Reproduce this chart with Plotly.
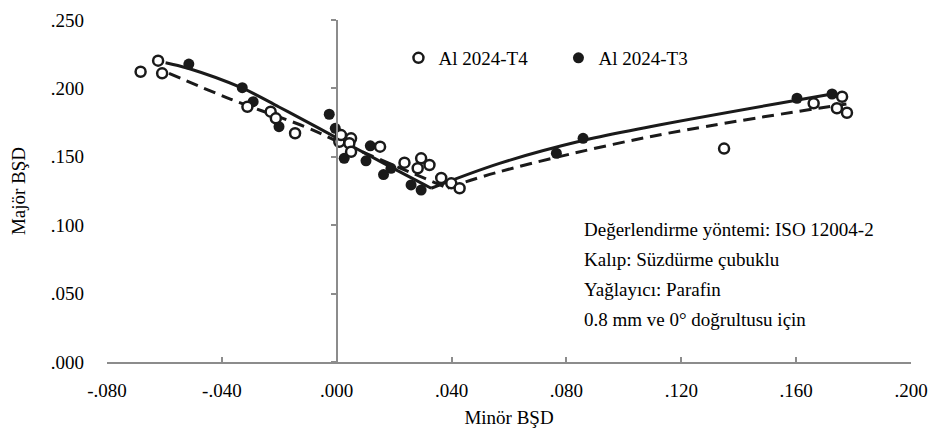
import plotly.graph_objects as go

# Al 2024-T4 (open circles)
t4_x = [-0.0683, -0.0622, -0.0608, -0.0311, -0.0230, -0.0212, -0.0145,
        0.0009, 0.0015, 0.0050, 0.0044, 0.0050, 0.0151, 0.0236, 0.0294,
        0.0282, 0.0323, 0.0364, 0.0399, 0.0428, 0.1349, 0.1661, 0.1760,
        0.1742, 0.1777]
t4_y = [0.2122, 0.2203, 0.2110, 0.1866, 0.1830, 0.1781, 0.1672,
        0.1610, 0.1659, 0.1635, 0.1599, 0.1537, 0.1574, 0.1457, 0.1489,
        0.1416, 0.1440, 0.1345, 0.1306, 0.1270, 0.1560, 0.1891, 0.1939,
        0.1855, 0.1822]

# Al 2024-T3 (filled dots)
t3_x = [-0.0515, -0.0329, -0.0291, -0.0201, -0.0026, -0.0005, 0.0026,
        0.0102, 0.0117, 0.0163, 0.0189, 0.0259, 0.0294, 0.0765, 0.0858,
        0.1603, 0.1725]
t3_y = [0.2178, 0.2005, 0.1903, 0.1720, 0.1811, 0.1708, 0.1489,
        0.1471, 0.1580, 0.1370, 0.1416, 0.1294, 0.1257, 0.1526, 0.1635,
        0.1928, 0.1959]

# trend curves
t3_fit_left_x = [-0.0596, -0.0518, -0.0330, -0.0201, -0.0061, 0.0148, 0.0329]
t3_fit_left_y = [0.2188, 0.2147, 0.2003, 0.1864, 0.1708, 0.1470, 0.1270]
t3_fit_right_x = [0.0329, 0.0567, 0.0857, 0.1091, 0.1725]
t3_fit_right_y = [0.1270, 0.1452, 0.1619, 0.1720, 0.1959]

t4_fit_left_x = [-0.0584, -0.0368, -0.0106, 0.0009, 0.0386]
t4_fit_left_y = [0.2110, 0.1920, 0.1716, 0.1608, 0.1272]
t4_fit_right_x = [0.0386, 0.0567, 0.1091, 0.1775]
t4_fit_right_y = [0.1272, 0.1391, 0.1647, 0.1886]

x_ticks = [-0.08, -0.04, 0.0, 0.04, 0.08, 0.12, 0.16, 0.2]
x_ticktext = ["-.080", "-.040", ".000", ".040", ".080", ".120", ".160", ".200"]
y_ticks = [0.0, 0.05, 0.1, 0.15, 0.2, 0.25]
y_ticktext = [".000", ".050", ".100", ".150", ".200", ".250"]

note_lines = ["Değerlendirme yöntemi: ISO 12004-2", "Kalıp: Süzdürme çubuklu",
              "Yağlayıcı: Parafin", "0.8 mm ve 0° doğrultusu için"]

FONT = "Liberation Serif"
AXIS_GREY = "#8c8c8c"

fig = go.Figure()
for xs, ys in [(t3_fit_left_x, t3_fit_left_y), (t3_fit_right_x, t3_fit_right_y)]:
    fig.add_trace(go.Scatter(x=xs, y=ys, mode="lines", line_shape="spline", showlegend=False,
                             line=dict(color="#1a1a1a", width=3)))
for xs, ys in [(t4_fit_left_x, t4_fit_left_y), (t4_fit_right_x, t4_fit_right_y)]:
    fig.add_trace(go.Scatter(x=xs, y=ys, mode="lines", line_shape="spline", showlegend=False,
                             line=dict(color="#1a1a1a", width=3, dash="12px,7px")))
fig.add_trace(go.Scatter(x=t3_x, y=t3_y, mode="markers", name="Al 2024-T3", legendrank=2,
                         marker=dict(color="#1a1a1a", size=11)))
fig.add_trace(go.Scatter(x=t4_x, y=t4_y, mode="markers", name="Al 2024-T4", legendrank=1,
                         marker=dict(color="white", size=10, line=dict(color="#1a1a1a", width=2.5))))
# empty trace so the vertical axis at x = 0 gets drawn
fig.add_trace(go.Scatter(x=[], y=[], yaxis="y2", showlegend=False))

for i, line in enumerate(note_lines):
    fig.add_annotation(text=line, xref="paper", yref="paper", x=0.591, y=0.386 - i * 0.0877,
                       xanchor="left", yanchor="middle", showarrow=False,
                       font=dict(family=FONT, size=19, color="black"))

fig.update_layout(
    width=931, height=422, margin=dict(l=99, r=28, t=12, b=68),
    plot_bgcolor="white", paper_bgcolor="white",
    font=dict(family=FONT, size=19, color="black"),
    legend=dict(orientation="h", x=0.3625, y=0.889, xanchor="left", yanchor="middle",
                entrywidth=115, entrywidthmode="pixels",
                font=dict(size=19), bgcolor="rgba(0,0,0,0)"),
    xaxis=dict(range=[-0.08, 0.2], tickvals=x_ticks, ticktext=x_ticktext, showgrid=False,
               zeroline=False, showline=True, linecolor=AXIS_GREY, linewidth=1.5,
               ticks="inside", ticklen=5, tickcolor=AXIS_GREY, tickwidth=1.5,
               ticklabelstandoff=10, automargin=False,
               title=dict(text="Minör BŞD", font=dict(size=19), standoff=11)),
    yaxis=dict(range=[0, 0.25], tickvals=y_ticks, ticktext=y_ticktext, showgrid=False,
               zeroline=False, showline=False, ticks="", ticklabelstandoff=22, automargin=False,
               title=dict(text="Majör BŞD", font=dict(size=19), standoff=20)),
    yaxis2=dict(range=[0, 0.25], overlaying="y", anchor="free", position=0.08 / 0.28,
                tickvals=y_ticks, showticklabels=False, showgrid=False, zeroline=False,
                showline=True, linecolor=AXIS_GREY, linewidth=1.5,
                ticks="outside", ticklen=5, tickcolor=AXIS_GREY, tickwidth=1.5),
)

fig.write_html("out.html")
